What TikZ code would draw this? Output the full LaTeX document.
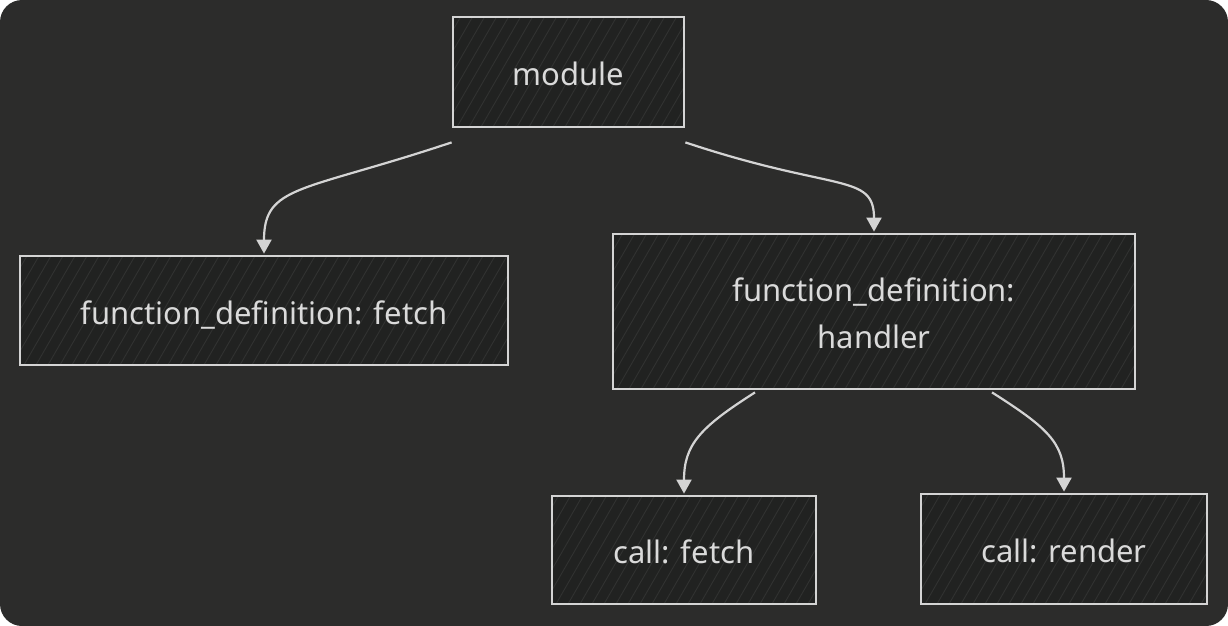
\documentclass[tikz,border=0pt]{standalone}
\usepackage{fontspec}
\setmainfont{Noto Sans}
\usetikzlibrary{arrows.meta}
\definecolor{bgcol}{HTML}{2C2C2B}
\definecolor{boxfill}{HTML}{212221}
\definecolor{hatchcol}{HTML}{313231}
\definecolor{linecol}{HTML}{D4D4D4}
\definecolor{textcol}{HTML}{DADADA}
\tikzset{
  treebox/.style={draw=linecol, line width=2.8pt, fill=boxfill, text=textcol,
    font=\fontsize{31}{47}\selectfont, align=center, inner sep=0pt,
    path picture={
      \foreach \k in {0,...,80}
        \draw[hatchcol, line width=0.9pt]
          ([xshift=\k*12pt-320pt]path picture bounding box.south west) -- ++(60:720pt);
    }},
  onebox/.style={treebox, text height=33pt, text depth=6pt},
  edge/.style={draw=linecol, line width=2.2pt,
    -{Triangle[width=15pt,length=14pt]}, shorten >=1pt}
}
\begin{document}
\begin{tikzpicture}[x=1pt,y=-1pt]
\useasboundingbox (0,0) rectangle (1228,626);
\fill[white] (0,0) rectangle (1228,626);
\fill[bgcol, rounded corners=22pt] (0,0) rectangle (1228,626);

\node[onebox, minimum width=231pt, minimum height=110pt] (module) at (568.5,72) {module};
\node[onebox, minimum width=488pt, minimum height=109pt] (fdef) at (264,310.5) {function\_definition: fetch};
\node[treebox, minimum width=522pt, minimum height=155pt] (handler) at (874,311.5) {\rule{0pt}{27.5pt}function\_definition:\\handler};
\node[onebox, minimum width=264pt, minimum height=108pt] (cfetch) at (684,550) {call: fetch};
\node[onebox, minimum width=286pt, minimum height=110pt] (crender) at (1064,549) {call: render};

\draw[edge] ([yshift=-14pt]module.south west) .. controls +(-150,50) and +(0,-70) .. (fdef.north);
\draw[edge] ([yshift=-14pt]module.south east) .. controls +(150,50) and +(0,-60) .. (handler.north);
\draw[edge] ([xshift=-119pt,yshift=-2pt]handler.south) .. controls +(-55,35) and +(0,-50) .. (cfetch.north);
\draw[edge] ([xshift=118pt,yshift=-2pt]handler.south) .. controls +(55,35) and +(0,-50) .. (crender.north);
\end{tikzpicture}
\end{document}
